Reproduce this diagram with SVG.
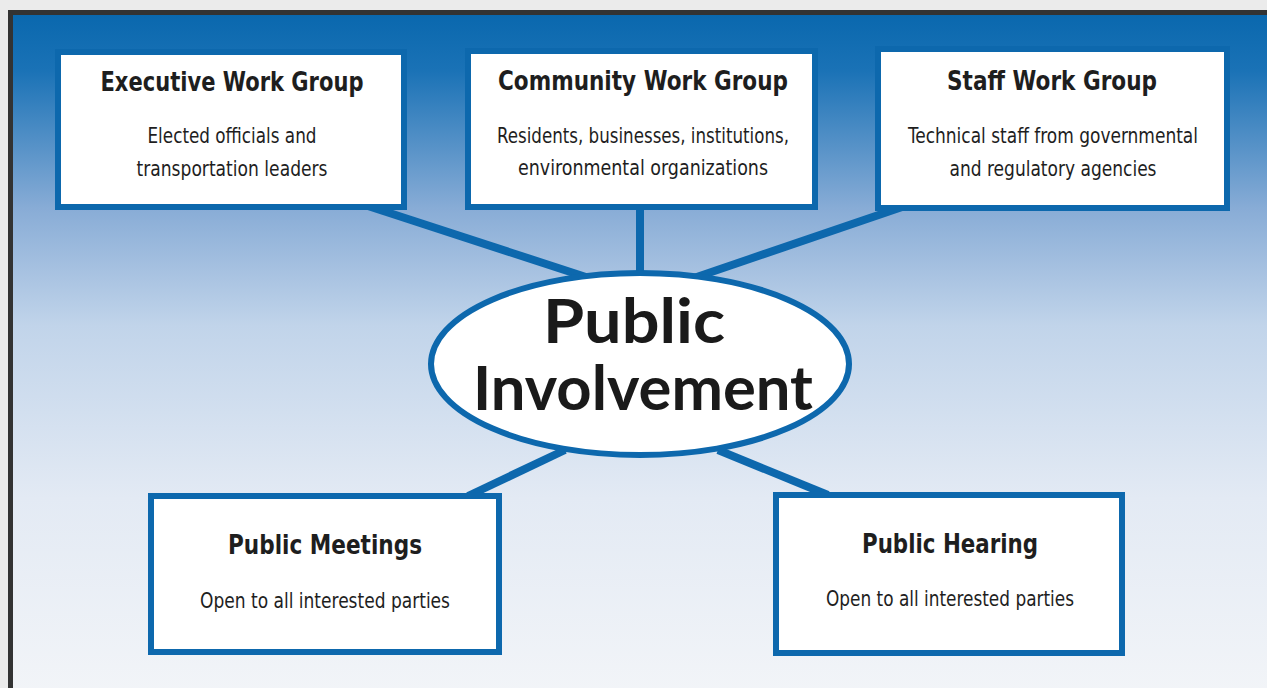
<svg xmlns="http://www.w3.org/2000/svg" width="1267" height="688" viewBox="0 0 1267 688">
  <defs>
    <linearGradient id="bg" x1="0" y1="0" x2="0" y2="1">
      <stop offset="0" stop-color="#0a68ae"/>
      <stop offset="0.08" stop-color="#1a72b6"/>
      <stop offset="0.28" stop-color="#88acd6"/>
      <stop offset="0.45" stop-color="#c1d4ea"/>
      <stop offset="0.7" stop-color="#e3eaf4"/>
      <stop offset="1" stop-color="#f3f5f8"/>
    </linearGradient>
    <style>
      .box { fill: #ffffff; stroke: #0d68ad; stroke-width: 6; }
      .conn { stroke: #0d68ad; stroke-width: 8; fill: none; }
      .title { font-family: "DejaVu Sans", "Liberation Sans", sans-serif; font-weight: bold; font-size: 27px; fill: #1e1e1e; text-anchor: middle; }
      .sub { font-family: "DejaVu Sans Condensed", "Liberation Sans Narrow", "Liberation Sans", sans-serif; font-size: 22px; fill: #1e1e1e; text-anchor: middle; }
      .center { font-family: Lato, "DejaVu Sans", sans-serif; font-weight: bold; font-size: 61px; fill: #1a1a1a; text-anchor: middle; }
    </style>
  </defs>

  <rect x="0" y="0" width="1267" height="688" fill="#ebebeb"/>
  <rect x="8" y="10" width="1265" height="690" fill="#333333"/>
  <rect x="13" y="15" width="1260" height="690" fill="url(#bg)"/>

  <g id="connectors">
    <line class="conn" x1="368" y1="206" x2="595" y2="280"/>
    <line class="conn" x1="640" y1="206" x2="640" y2="275"/>
    <line class="conn" x1="905" y1="206" x2="688" y2="280"/>
    <line class="conn" x1="565" y1="450" x2="468" y2="496"/>
    <line class="conn" x1="718" y1="450" x2="828" y2="495"/>
  </g>

  <g id="executive">
    <rect class="box" x="58" y="52" width="346" height="155"/>
    <text class="title" x="232" y="91" textLength="263" lengthAdjust="spacingAndGlyphs">Executive Work Group</text>
    <text class="sub" x="232" y="143" textLength="169" lengthAdjust="spacingAndGlyphs">Elected officials and</text>
    <text class="sub" x="232" y="176" textLength="191" lengthAdjust="spacingAndGlyphs">transportation leaders</text>
  </g>

  <g id="community">
    <rect class="box" x="468" y="51" width="347" height="156"/>
    <text class="title" x="643" y="90" textLength="290" lengthAdjust="spacingAndGlyphs">Community Work Group</text>
    <text class="sub" x="643" y="143" textLength="292" lengthAdjust="spacingAndGlyphs">Residents, businesses, institutions,</text>
    <text class="sub" x="643" y="175" textLength="250" lengthAdjust="spacingAndGlyphs">environmental organizations</text>
  </g>

  <g id="staff">
    <rect class="box" x="878" y="49" width="349" height="159"/>
    <text class="title" x="1052" y="90" textLength="210" lengthAdjust="spacingAndGlyphs">Staff Work Group</text>
    <text class="sub" x="1053" y="143" textLength="290" lengthAdjust="spacingAndGlyphs">Technical staff from governmental</text>
    <text class="sub" x="1053" y="176" textLength="207" lengthAdjust="spacingAndGlyphs">and regulatory agencies</text>
  </g>

  <g id="public-involvement">
    <ellipse cx="640" cy="364" rx="209" ry="91" fill="#ffffff" stroke="#0d68ad" stroke-width="6"/>
    <text class="center" x="634" y="343" textLength="182" lengthAdjust="spacingAndGlyphs">Public</text>
    <text class="center" x="643" y="410" textLength="340" lengthAdjust="spacingAndGlyphs">Involvement</text>
  </g>

  <g id="public-meetings">
    <rect class="box" x="151" y="496" width="348" height="156"/>
    <text class="title" x="325" y="554" textLength="194" lengthAdjust="spacingAndGlyphs">Public Meetings</text>
    <text class="sub" x="325" y="608" textLength="250" lengthAdjust="spacingAndGlyphs">Open to all interested parties</text>
  </g>

  <g id="public-hearing">
    <rect class="box" x="776" y="495" width="346" height="158"/>
    <text class="title" x="950" y="553" textLength="176" lengthAdjust="spacingAndGlyphs">Public Hearing</text>
    <text class="sub" x="950" y="606" textLength="248" lengthAdjust="spacingAndGlyphs">Open to all interested parties</text>
  </g>
</svg>
